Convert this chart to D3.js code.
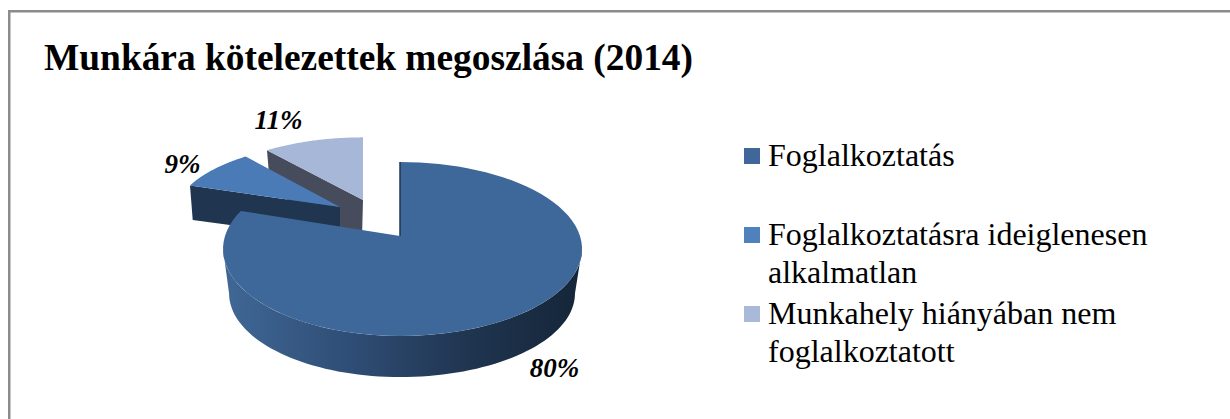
<!DOCTYPE html>
<html>
<head>
<meta charset="utf-8">
<script src="https://cdn.jsdelivr.net/npm/d3@7"></script>
<style>
  html, body { margin: 0; padding: 0; background: #fff; }
  svg { display: block; }
  text { font-family: "Liberation Serif", serif; fill: #000; }
</style>
</head>
<body>
<svg id="chart" width="1230" height="419"></svg>
<script>
const title = "Munkára kötelezettek megoszlása (2014)";
const categories = ["Foglalkoztatás", "Foglalkoztatásra ideiglenesen alkalmatlan", "Munkahely hiányában nem foglalkoztatott"];
const values = [80, 9, 11];
const legendLines = [["Foglalkoztatás"], ["Foglalkoztatásra ideiglenesen", "alkalmatlan"], ["Munkahely hiányában nem", "foglalkoztatott"]];
const topColors = ["#3e6899", "#4a7bb7", "#a6b7d7"];
const sideColors = ["#3e6899", "#1f3550", "#474c5c"];
const swatchColors = ["#3f6899", "#4f81bd", "#a8b9d9"];

const svg = d3.select("#chart");
const defs = svg.append("defs");

// side of the big slice goes dark to the right
const grad = defs.append("linearGradient")
  .attr("id", "sideGrad")
  .attr("gradientUnits", "userSpaceOnUse")
  .attr("x1", 228).attr("x2", 578).attr("y1", 0).attr("y2", 0);
grad.append("stop").attr("offset", "0%").attr("stop-color", "#3f6795");
grad.append("stop").attr("offset", "35%").attr("stop-color", "#2f4d75");
grad.append("stop").attr("offset", "70%").attr("stop-color", "#1f344f");
grad.append("stop").attr("offset", "100%").attr("stop-color", "#152639");

// frame is only top and left, the crop cuts the other two
svg.append("path")
  .attr("d", "M9.25,419V11.25H1230")
  .attr("fill", "none").attr("stroke", "#8c8c8c").attr("stroke-width", 2.5);

svg.append("text")
  .attr("x", 44).attr("y", 70)
  .style("font-size", "37.4px").style("font-weight", "bold")
  .text(title);

// perspective of the tilted disc
const persp = 0.1494;
const lineGen = d3.line();

// slice placement: apex on screen and disc radii, for the top and bottom faces
const placement = [
  { top: { x: 400, y: 236, bl: 175, br: 180, a: 85 }, bottom: { x: 400, y: 281, bl: 169, br: 173, a: 81.7 } },
  { top: { x: 340, y: 207, bl: 165, br: 165, a: 73 }, bottom: { x: 340, y: 240, bl: 162, br: 162, a: 68 } },
  { top: { x: 363, y: 200, bl: 168, br: 168, a: 72 }, bottom: { x: 362, y: 238, bl: 160, br: 160, a: 68 } }
];

function project(p, angle) {
  const u = Math.sin(angle), v = Math.cos(angle);
  const w = 1 / (1 + persp * v);
  return [p.x + (u < 0 ? p.bl : p.br) * u * w, p.y - p.a * v * w];
}

function arcPoints(p, a0, a1) {
  return d3.range(0, 81).map(i => project(p, a0 + (a1 - a0) * i / 80));
}

const arcs = d3.pie().sort(null)(values);

function topPath(i) {
  const p = placement[i].top;
  return lineGen([[p.x, p.y], ...arcPoints(p, arcs[i].startAngle, arcs[i].endAngle)]) + "Z";
}

// cut face on the side that looks towards the viewer
function cutFace(i) {
  const { top, bottom } = placement[i];
  const a = arcs[i].startAngle;
  return lineGen([[top.x, top.y], project(top, a), project(bottom, a), [bottom.x, bottom.y]]) + "Z";
}

const pieG = svg.append("g");

// back to front: 11%, 9%, 80%
pieG.append("path").attr("d", cutFace(2)).attr("fill", sideColors[2]);
pieG.append("path").attr("d", topPath(2)).attr("fill", topColors[2]);
pieG.append("path").attr("d", cutFace(1)).attr("fill", sideColors[1]);
pieG.append("path").attr("d", topPath(1)).attr("fill", topColors[1]);

// rim of the big slice, front half of the disc only
const rimStart = Math.acos(-persp), rimEnd = 2 * Math.PI - rimStart;
const rim = [...arcPoints(placement[0].top, rimStart, rimEnd), ...arcPoints(placement[0].bottom, rimEnd, rimStart)];
pieG.append("path").attr("d", lineGen(rim) + "Z").attr("fill", "url(#sideGrad)");
pieG.append("path").attr("d", topPath(0)).attr("fill", topColors[0]);

// thin dark edge of the notch
const notch = placement[0].top;
pieG.append("path")
  .attr("d", lineGen([project(notch, 0), [notch.x, notch.y]]))
  .attr("stroke", "#1f3550").attr("stroke-width", 1.5).attr("fill", "none");

// percent labels
const labelX = [554.5, 182.5, 278.5];
const labelY = [377, 173, 129];
svg.selectAll(".pct")
  .data(values)
  .join("text")
  .attr("class", "pct")
  .attr("x", (d, i) => labelX[i])
  .attr("y", (d, i) => labelY[i])
  .attr("text-anchor", "middle")
  .style("font-size", "27px").style("font-weight", "bold").style("font-style", "italic")
  .text(d => d + "%");

// legend
const legendY = [166, 245, 324];
const lineHeight = 37.5;
const legend = svg.selectAll(".leg")
  .data(categories)
  .join("g")
  .attr("class", "leg");
legend.append("rect")
  .attr("x", 744).attr("y", (d, i) => legendY[i] - 18)
  .attr("width", 16).attr("height", 16)
  .attr("fill", (d, i) => swatchColors[i]);
legend.each(function(d, i) {
  d3.select(this).selectAll("text")
    .data(legendLines[i])
    .join("text")
    .attr("x", 768)
    .attr("y", (l, j) => legendY[i] + j * lineHeight)
    .style("font-size", "32px")
    .text(l => l);
});
</script>
</body>
</html>
